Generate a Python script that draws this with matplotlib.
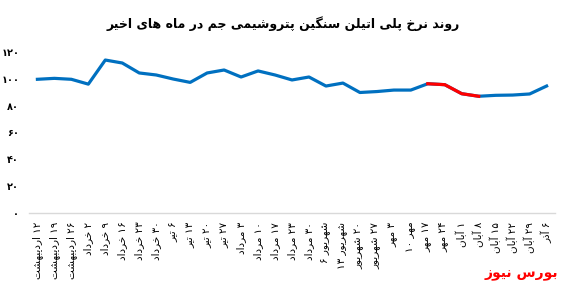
import numpy as np
import matplotlib.pyplot as plt

# Persian shaping (matplotlib has no bidi / contextual forms)
FORMS = {
    "ا": ("\uFE8D", "\uFE8E", None, None),
    "آ": ("\uFE81", "\uFE82", None, None),
    "ب": ("\uFE8F", "\uFE90", "\uFE91", "\uFE92"),
    "پ": ("\uFB56", "\uFB57", "\uFB58", "\uFB59"),
    "ت": ("\uFE95", "\uFE96", "\uFE97", "\uFE98"),
    "ج": ("\uFE9D", "\uFE9E", "\uFE9F", "\uFEA0"),
    "خ": ("\uFEA5", "\uFEA6", "\uFEA7", "\uFEA8"),
    "د": ("\uFEA9", "\uFEAA", None, None),
    "ذ": ("\uFEAB", "\uFEAC", None, None),
    "ر": ("\uFEAD", "\uFEAE", None, None),
    "ز": ("\uFEAF", "\uFEB0", None, None),
    "س": ("\uFEB1", "\uFEB2", "\uFEB3", "\uFEB4"),
    "ش": ("\uFEB5", "\uFEB6", "\uFEB7", "\uFEB8"),
    "گ": ("\uFB92", "\uFB93", "\uFB94", "\uFB95"),
    "ل": ("\uFEDD", "\uFEDE", "\uFEDF", "\uFEE0"),
    "م": ("\uFEE1", "\uFEE2", "\uFEE3", "\uFEE4"),
    "ن": ("\uFEE5", "\uFEE6", "\uFEE7", "\uFEE8"),
    "ه": ("\uFEE9", "\uFEEA", "\uFEEB", "\uFEEC"),
    "و": ("\uFEED", "\uFEEE", None, None),
    "ی": ("\uFBFC", "\uFBFD", "\uFBFE", "\uFBFF"),
}


def shape_word(w):
    out = []
    for i, c in enumerate(w):
        if c not in FORMS:
            out.append(c)
            continue
        prev = w[i - 1] if i > 0 else None
        nxt = w[i + 1] if i < len(w) - 1 else None
        jp = prev in FORMS and FORMS[prev][2] is not None
        jn = FORMS[c][2] is not None and nxt in FORMS
        iso, fin, ini, med = FORMS[c]
        if jp and jn:
            out.append(med)
        elif jp:
            out.append(fin)
        elif jn:
            out.append(ini)
        else:
            out.append(iso)
    return "".join(out)


def fa(text):
    toks = text.split(" ")
    vis = []
    for t in reversed(toks):
        if any(ch in FORMS for ch in t):
            vis.append(shape_word(t)[::-1])
        else:
            vis.append(t)
    return " ".join(vis)


title = "روند نرخ پلی اتیلن سنگین پتروشیمی جم در ماه های اخیر"
brand = "بورس نیوز"

dates = [
    "۱۲ اردیبهشت", "۱۹ اردیبهشت", "۲۶ اردیبهشت", "۲ خرداد", "۹ خرداد",
    "۱۶ خرداد", "۲۳ خرداد", "۳۰ خرداد", "۶ تیر", "۱۳ تیر", "۲۰ تیر",
    "۲۷ تیر", "۳ مرداد", "۱۰ مرداد", "۱۷ مرداد", "۲۳ مرداد", "۳۰ مرداد",
    "شهریور ۶", "شهریور ۱۳", "۲۰ شهریور", "۲۷ شهریور", "۳ مهر", "مهر ۱۰",
    "۱۷ مهر", "۲۴ مهر", "۱ آبان", "۸ آبان", "۱۵ آبان", "۲۲ آبان",
    "۲۹ آبان", "۶ آذر",
]

price = [99.5, 100.2, 99.5, 95.9, 113.8, 111.6, 104.2, 102.7, 99.7, 97.2,
         104.2, 106.4, 101.2, 105.7, 102.7, 99.0, 101.2, 94.5, 96.7, 89.7,
         90.4, 91.5, 91.5, 96.2, 95.5, 88.8, 86.9, 87.6, 87.8, 88.6, 94.5]

red_from, red_to = 23, 26

yticks = [0, 20, 40, 60, 80, 100, 120]
ytick_labels = ["۰", "۲۰", "۴۰", "۶۰", "۸۰", "۱۰۰", "۱۲۰"]

plt.rcParams["font.family"] = ["DejaVu Sans"]

fig = plt.figure(figsize=(5.67, 2.92), dpi=100)
ax = fig.add_axes([0.051, 0.2695, 0.928, 0.5535])

x = np.arange(len(price))
y = np.array(price)
ax.plot(x, y, color="#0070C0", lw=2.3, solid_joinstyle="round")
ax.plot(x[red_from:red_to + 1], y[red_from:red_to + 1], color="#FF0000",
        lw=2.3, solid_joinstyle="round")

ax.set_xlim(-0.5, len(price) - 0.5)
ax.set_ylim(0, 120)
ax.set_yticks(yticks)
ax.set_yticklabels(ytick_labels, fontsize=7, fontweight="bold")
ax.set_xticks(x)
ax.set_xticklabels([fa(d) for d in dates], rotation=90, fontsize=7.5,
                   va="top", ha="center")
ax.tick_params(axis="both", length=0)
ax.tick_params(axis="y", pad=7)
ax.tick_params(axis="x", pad=6)

for s in ["top", "right", "left"]:
    ax.spines[s].set_visible(False)
ax.spines["bottom"].set_color("#D9D9D9")
ax.spines["bottom"].set_linewidth(1)

fig.text(0.5, 0.92, fa(title), ha="center", va="center", fontsize=9,
         fontweight="bold")
fig.text(0.985, 0.06, fa(brand), ha="right", va="center", fontsize=10,
         fontweight="bold", color="#FF0000")

fig.savefig("out.png", dpi=100, facecolor="white")
